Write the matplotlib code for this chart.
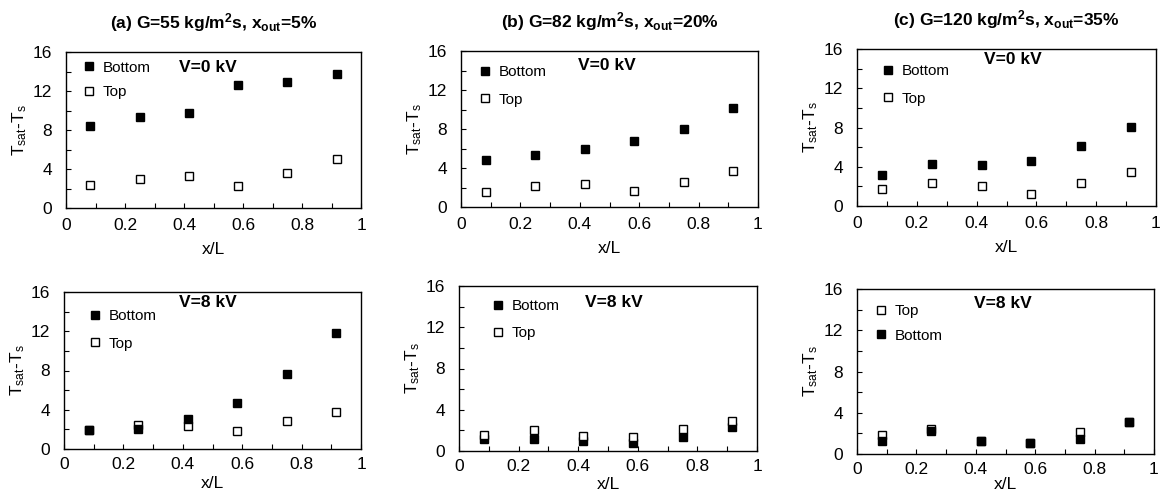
import matplotlib
matplotlib.use("Agg")
import matplotlib.pyplot as plt
from matplotlib.ticker import MultipleLocator

plt.rcParams['font.family'] = ['Liberation Sans', 'DejaVu Sans']
plt.rcParams['mathtext.fontset'] = 'custom'
plt.rcParams['mathtext.rm'] = 'Liberation Sans'
plt.rcParams['mathtext.it'] = 'Liberation Sans'
plt.rcParams['mathtext.bf'] = 'Liberation Sans:bold'

# ---- data ----
x_pos = [0.083, 0.25, 0.417, 0.583, 0.75, 0.917]

titles = [r"(a) G=55 kg/m$^\mathbf{2}$s, x$_\mathbf{out}$=5%",
          r"(b) G=82 kg/m$^\mathbf{2}$s, x$_\mathbf{out}$=20%",
          r"(c) G=120 kg/m$^\mathbf{2}$s, x$_\mathbf{out}$=35%"]
voltages = ["V=0 kV", "V=8 kV"]

# V=0 kV
bottom_a0 = [8.45, 9.3, 9.7, 12.6, 12.9, 13.75]
top_a0 = [2.35, 2.95, 3.25, 2.25, 3.55, 5.0]
bottom_b0 = [4.8, 5.35, 5.9, 6.75, 8.05, 10.2]
top_b0 = [1.5, 2.2, 2.35, 1.6, 2.6, 3.65]
bottom_c0 = [3.2, 4.3, 4.2, 4.6, 6.15, 8.05]
top_c0 = [1.75, 2.3, 2.05, 1.2, 2.3, 3.5]
# V=8 kV
bottom_a8 = [1.9, 2.0, 3.1, 4.7, 7.65, 11.8]
top_a8 = [1.9, 2.45, 2.35, 1.85, 2.85, 3.8]
bottom_b8 = [1.15, 1.15, 1.0, 0.75, 1.4, 2.35]
top_b8 = [1.6, 2.05, 1.5, 1.35, 2.1, 2.95]
bottom_c8 = [1.3, 2.25, 1.25, 1.1, 1.45, 3.15]
top_c8 = [1.8, 2.45, 1.3, 1.1, 2.15, 3.15]

x_ticks = [0, 0.2, 0.4, 0.6, 0.8, 1]
x_ticklabels = ["0", "0.2", "0.4", "0.6", "0.8", "1"]
y_ticks = [0, 4, 8, 12, 16]

W, H = 1161, 499
fig = plt.figure(figsize=(W / 100, H / 100), dpi=100)

# axes boxes in pixels: (x0, x1, y_top, y_bottom)
boxes = [
    [(66, 361, 52, 208), (461, 758, 51, 207), (857, 1156, 49, 206)],
    [(64, 361, 292, 449), (459, 757, 286, 451), (857, 1154, 289, 454)],
]
vpos = [[(0.48, 0.90), (0.49, 0.91), (0.52, 0.93)],
        [(0.485, 0.93), (0.52, 0.90), (0.49, 0.915)]]
# first legend marker centre (axes fraction x, fraction from top) and row gap in px
legmark = [[(0.078, 0.10, 24), (0.081, 0.135, 27), (0.104, 0.14, 27)],
           [(0.104, 0.153, 27), (0.13, 0.12, 27), (0.08, 0.133, 24)]]
xlabel_pad = [[7, 7, 7], [3, 2, 0]]

data = [
    [(bottom_a0, top_a0), (bottom_b0, top_b0), (bottom_c0, top_c0)],
    [(bottom_a8, top_a8), (bottom_b8, top_b8), (bottom_c8, top_c8)],
]

leg_fs = 11
fs_px = leg_fs * 100 / 72
hl = 1.2

for r in range(2):
    for c in range(3):
        x0, x1, yt, yb = boxes[r][c]
        wpx, hpx = x1 - x0, yb - yt
        ax = fig.add_axes([x0 / W, 1 - yb / H, wpx / W, hpx / H])
        bot, top = data[r][c]
        ms = 6.2
        if r == 1 and c == 1:
            hb, = ax.plot(x_pos, bot, 's', color='black', ms=ms, mec='black', label='Bottom', zorder=3)
            ht, = ax.plot(x_pos, top, 's', mfc='white', mec='black', mew=1.0, ms=ms, label='Top', zorder=4)
        else:
            ht, = ax.plot(x_pos, top, 's', mfc='white', mec='black', mew=1.0, ms=ms, label='Top', zorder=3)
            hb, = ax.plot(x_pos, bot, 's', color='black', ms=ms, mec='black', label='Bottom', zorder=4)
        handles = [ht, hb] if (r == 1 and c == 2) else [hb, ht]
        mx, my, gap = legmark[r][c]
        row_h = fs_px * 0.89
        ax_x = mx - (hl * fs_px / 2) / wpx
        ax_y = 1 - my + (row_h / 2) / hpx
        ax.legend(handles=handles, loc='upper left', frameon=False, fontsize=leg_fs,
                  handletextpad=0.3, labelspacing=(gap - row_h) / fs_px, handlelength=hl,
                  borderaxespad=0, borderpad=0, bbox_to_anchor=(ax_x, ax_y))
        ax.text(vpos[r][c][0], vpos[r][c][1], voltages[r], transform=ax.transAxes,
                ha='center', va='center', fontsize=12.5, fontweight='bold')
        ax.set_xlim(0, 1)
        ax.set_ylim(0, 16)
        ax.set_xticks(x_ticks)
        ax.set_xticklabels(x_ticklabels)
        ax.set_yticks(y_ticks)
        ax.xaxis.set_minor_locator(MultipleLocator(0.1))
        ax.yaxis.set_minor_locator(MultipleLocator(2))
        ax.tick_params(which='both', direction='in', length=3.5, width=0.8,
                       labelsize=12.5, top=False, right=False)
        ax.tick_params(axis='x', pad=6 if r == 1 else 7)
        ax.tick_params(axis='y', pad=10)
        for s in ax.spines.values():
            s.set_linewidth(1.0)
        ax.set_xlabel("x/L", fontsize=12.5, labelpad=xlabel_pad[r][c])
        ax.set_ylabel(r"T$_{\rm sat}$-T$_{\rm s}$", fontsize=12.5, labelpad=3)
        if r == 0:
            ax.set_title(titles[c], fontsize=12.5, fontweight='bold', pad=17)

fig.savefig("out.png", dpi=100)
